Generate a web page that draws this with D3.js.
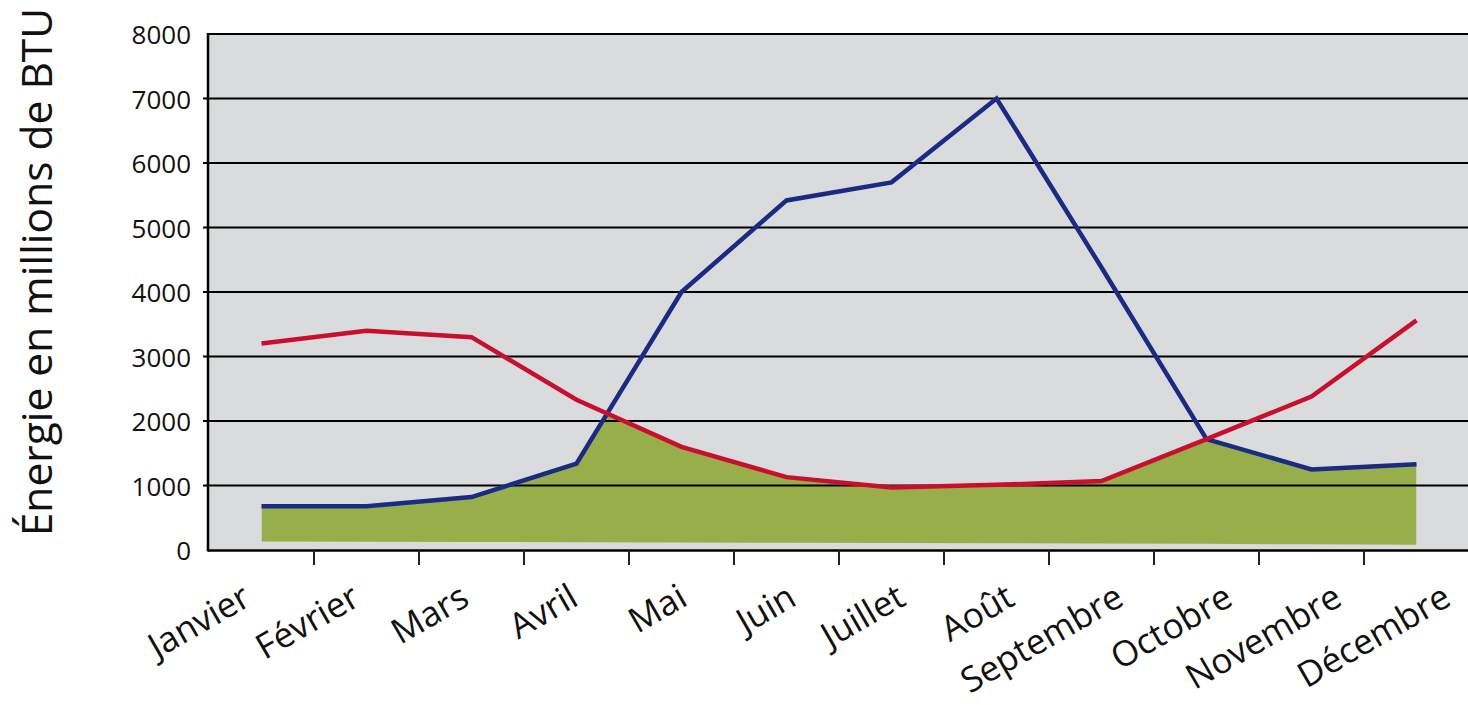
<!DOCTYPE html>
<html>
<head>
<meta charset="utf-8">
<script src="https://cdn.jsdelivr.net/npm/d3@7"></script>
<style>
  html, body { margin: 0; padding: 0; background: #ffffff; }
  svg { display: block; }
  text { font-family: "Open Sans", "Noto Sans", sans-serif; fill: #111; }
</style>
</head>
<body>
<svg id="chart" width="1468" height="705"></svg>
<script>
// ---- Data ----
const months = ["Janvier", "Février", "Mars", "Avril", "Mai", "Juin", "Juillet", "Août", "Septembre", "Octobre", "Novembre", "Décembre"];
const blueValues = [680, 680, 820, 1340, 4000, 5420, 5700, 7000, 4380, 1720, 1250, 1330];
const redValues  = [3200, 3400, 3300, 2330, 1600, 1130, 970, 1010, 1070, 1720, 2380, 3560];
const baseValues = [130, 128, 125, 120, 117, 113, 110, 105, 100, 95, 88, 80];
const yTicks = [0, 1000, 2000, 3000, 4000, 5000, 6000, 7000, 8000];
const yTitle = "Énergie en millions de BTU";

// ---- Layout ----
const svg = d3.select("#chart");
const plotLeft = 208, plotRight = 1471, plotTop = 34, plotBottom = 550;

const x = d3.scaleBand().domain(months).range([209, 1469]).padding(0);
const xLabel = d3.scalePoint().domain(months).range([253, 1453]);
const y = d3.scaleLinear().domain([0, 8000]).range([plotBottom, plotTop]);
const cx = m => x(m) + x.bandwidth() / 2;

// background
svg.append("rect")
  .attr("x", plotLeft).attr("y", plotTop)
  .attr("width", plotRight - plotLeft).attr("height", plotBottom - plotTop)
  .attr("fill", "#dadbdd");

// ---- Green area: min(blue, red) above a base series ----
const rows = months.map((m, i) => ({ m, blue: blueValues[i], red: redValues[i], base: baseValues[i] }));

const defs = svg.append("defs");
defs.append("clipPath").attr("id", "underRed")
  .append("path")
  .attr("d", d3.area().x(d => cx(d.m)).y0(plotBottom + 5).y1(d => y(d.red))(rows));

svg.append("path")
  .attr("clip-path", "url(#underRed)")
  .attr("fill", "#97ae4a")
  .attr("d", d3.area().x(d => cx(d.m)).y0(d => y(d.base)).y1(d => y(d.blue))(rows));

// ---- Grid lines ----
svg.append("g").selectAll("line")
  .data(yTicks.filter(t => t > 0 && t < 8000))
  .join("line")
  .attr("x1", plotLeft - 5).attr("x2", plotRight)
  .attr("y1", d => y(d)).attr("y2", d => y(d))
  .attr("stroke", "#000").attr("stroke-width", 2.2);

// top border
svg.append("line")
  .attr("x1", plotLeft).attr("x2", plotRight)
  .attr("y1", y(8000)).attr("y2", y(8000))
  .attr("stroke", "#000").attr("stroke-width", 2.2);

// ---- Lines ----
const lineGen = key => d3.line().x(d => cx(d.m)).y(d => y(d[key]));
svg.append("path").datum(rows)
  .attr("fill", "none").attr("stroke", "#1b2a82").attr("stroke-width", 4.5)
  .attr("stroke-linejoin", "miter")
  .attr("d", lineGen("blue"));
svg.append("path").datum(rows)
  .attr("fill", "none").attr("stroke", "#c8102e").attr("stroke-width", 4.5)
  .attr("stroke-linejoin", "miter")
  .attr("d", lineGen("red"));

// ---- Axes frame ----
svg.append("line")
  .attr("x1", plotLeft).attr("x2", plotLeft)
  .attr("y1", plotTop - 1).attr("y2", plotBottom + 1.5)
  .attr("stroke", "#000").attr("stroke-width", 2.5);
svg.append("line")
  .attr("x1", plotLeft).attr("x2", plotRight)
  .attr("y1", plotBottom + 0.5).attr("y2", plotBottom + 0.5)
  .attr("stroke", "#000").attr("stroke-width", 2.5);

// x tick marks at category boundaries
svg.append("g").selectAll("line")
  .data(months.slice(1).concat(["__end"]))
  .join("line")
  .attr("x1", d => d === "__end" ? x(months[11]) + x.bandwidth() : x(d))
  .attr("x2", d => d === "__end" ? x(months[11]) + x.bandwidth() : x(d))
  .attr("y1", plotBottom).attr("y2", plotBottom + 15)
  .attr("stroke", "#222").attr("stroke-width", 2);

// y tick labels
svg.append("g").selectAll("text")
  .data(yTicks)
  .join("text")
  .attr("x", 191).attr("y", d => y(d))
  .attr("text-anchor", "end")
  .attr("dominant-baseline", "central")
  .attr("font-size", 26)
  .text(d => d);

// x labels (rotated)
svg.append("g").selectAll("text")
  .data(months)
  .join("text")
  .attr("transform", d => `translate(${xLabel(d)},604) rotate(-30)`)
  .attr("text-anchor", "end")
  .attr("font-size", 35)
  .text(d => d);

// y title
svg.append("text")
  .attr("transform", "translate(52,272) rotate(-90)")
  .attr("text-anchor", "middle")
  .attr("font-size", 42.5)
  .text(yTitle);
</script>
</body>
</html>
